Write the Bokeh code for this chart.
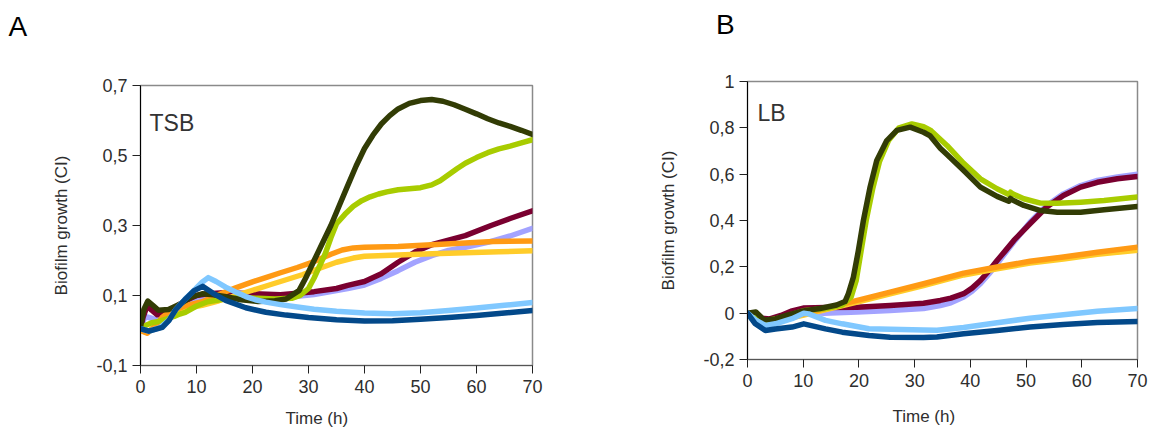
from bokeh.plotting import figure
from bokeh.layouts import row
from bokeh.models import Range1d, FixedTicker, CustomJSTickFormatter, Label
from bokeh.embed import file_html
from bokeh.resources import INLINE

FONT = "Liberation Sans"

# ---------------- Panel A : TSB ----------------
tsb_olive_t = [0, 0.6, 1.3, 2.2, 3.2, 5, 7, 9, 11, 13, 15, 18, 21, 24, 26, 28.3, 29.5, 31, 32.5, 34, 35.5, 37, 38.5, 40, 41.5, 43, 44.5, 46, 48, 50, 52, 54, 56, 58, 60, 62, 64, 66, 68, 70]
tsb_olive_y = [0.01, 0.06, 0.084, 0.072, 0.058, 0.06, 0.075, 0.095, 0.105, 0.102, 0.097, 0.088, 0.083, 0.085, 0.09, 0.114, 0.15, 0.2, 0.25, 0.3, 0.357, 0.414, 0.47, 0.52, 0.558, 0.59, 0.614, 0.633, 0.649, 0.657, 0.66, 0.655, 0.645, 0.632, 0.619, 0.605, 0.593, 0.583, 0.572, 0.56]

tsb_lime_t = [0, 1, 2, 3, 4, 5, 6, 7, 8, 10, 12, 15, 18, 21, 24, 27, 28.5, 30, 31, 32, 33, 34, 35, 36.5, 38, 39.5, 41, 42.5, 44, 46, 48, 50, 52, 53.5, 55, 56.5, 58, 60, 62, 64, 66, 68, 70]
tsb_lime_y = [0.005, 0.015, 0.022, 0.025, 0.03, 0.035, 0.04, 0.047, 0.052, 0.07, 0.082, 0.09, 0.094, 0.092, 0.09, 0.092, 0.1, 0.12, 0.15, 0.185, 0.22, 0.265, 0.305, 0.332, 0.355, 0.371, 0.382, 0.39, 0.396, 0.402, 0.405, 0.408, 0.416, 0.428, 0.445, 0.462, 0.478, 0.494, 0.508, 0.519, 0.527, 0.536, 0.545]

tsb_maroon_t = [0, 0.5, 1.2, 2, 3, 4, 5, 6, 7, 8, 10, 12, 15, 20, 25, 31, 35, 37, 40, 43, 46, 49, 52, 55, 58, 62.6, 66, 70]
tsb_maroon_y = [0.005, 0.04, 0.071, 0.058, 0.045, 0.045, 0.05, 0.06, 0.075, 0.085, 0.1, 0.105, 0.108, 0.105, 0.102, 0.111, 0.12, 0.129, 0.14, 0.162, 0.195, 0.224, 0.245, 0.258, 0.271, 0.3, 0.32, 0.342]

tsb_lavender_t = [0, 0.8, 2, 3, 4, 5, 6, 7, 8, 10, 12, 15, 20, 25, 31, 37, 40, 43, 46, 49, 52, 55, 58, 62, 66, 70]
tsb_lavender_y = [0.005, 0.04, 0.035, 0.03, 0.028, 0.032, 0.045, 0.06, 0.075, 0.09, 0.097, 0.1, 0.097, 0.093, 0.103, 0.12, 0.13, 0.149, 0.171, 0.195, 0.214, 0.229, 0.238, 0.252, 0.27, 0.292]

tsb_orange_t = [0, 1.2, 2.7, 3.9, 5.1, 8.1, 11, 14, 17, 20, 22.5, 25, 28, 31, 34, 36, 38, 40, 46, 52, 58, 63, 70]
tsb_orange_y = [0.0, -0.008, 0.014, 0.038, 0.052, 0.071, 0.082, 0.103, 0.122, 0.139, 0.152, 0.165, 0.18, 0.197, 0.218, 0.23, 0.236, 0.238, 0.24, 0.245, 0.25, 0.254, 0.256]

tsb_yellow_t = [0, 1.2, 2.7, 4, 5.1, 8, 11, 14, 17, 20, 23, 26, 29, 32, 35, 38, 40, 46, 52, 58, 64, 70]
tsb_yellow_y = [0.0, -0.005, 0.012, 0.03, 0.045, 0.063, 0.072, 0.085, 0.1, 0.115, 0.13, 0.145, 0.16, 0.178, 0.195, 0.207, 0.212, 0.216, 0.219, 0.222, 0.225, 0.228]

tsb_lightblue_t = [0, 1.5, 3.5, 5, 6.3, 8.1, 9.9, 11, 12.1, 13.5, 15.2, 17, 18.8, 20.5, 22.4, 25, 28, 31, 35, 40, 45, 50, 55, 60, 65, 70]
tsb_lightblue_y = [0.005, -0.002, 0.008, 0.028, 0.06, 0.092, 0.12, 0.138, 0.151, 0.14, 0.124, 0.11, 0.097, 0.088, 0.081, 0.074, 0.067, 0.061, 0.055, 0.05, 0.048, 0.051, 0.057, 0.064, 0.072, 0.08]

tsb_darkblue_t = [0, 1.5, 3.9, 5.1, 6.3, 8.1, 9.6, 11.1, 12.9, 15.2, 18.8, 22.4, 26, 30, 35, 40, 45, 50, 55, 60, 65, 70]
tsb_darkblue_y = [0.005, -0.002, 0.009, 0.029, 0.06, 0.091, 0.114, 0.126, 0.107, 0.086, 0.065, 0.052, 0.044, 0.037, 0.031, 0.027, 0.028, 0.032, 0.037, 0.043, 0.05, 0.057]

# ---------------- Panel B : LB ----------------
lb_olive_t = [0, 1.5, 3, 5, 7, 10, 13, 16, 17.5, 18.1, 19, 19.9, 20.8, 22, 23.2, 25, 26.8, 29.2, 31.6, 32.8, 34.6, 35.8, 38.8, 41.8, 44.8, 46.9, 47.2, 47.6, 49.6, 52.6, 55.6, 59.8, 64, 70]
lb_olive_y = [0.0, 0.005, -0.03, -0.025, -0.01, 0.01, 0.02, 0.035, 0.05, 0.084, 0.155, 0.27, 0.4, 0.544, 0.659, 0.745, 0.789, 0.803, 0.781, 0.765, 0.712, 0.685, 0.616, 0.544, 0.504, 0.483, 0.495, 0.488, 0.465, 0.443, 0.436, 0.436, 0.446, 0.46]

lb_lime_t = [0, 3, 6, 10, 14, 17, 18.6, 19.5, 20.4, 21.3, 22.5, 23.7, 25.3, 27.2, 29.5, 31.6, 32.8, 35.8, 38.8, 41.8, 44.8, 46.9, 47.2, 47.6, 49.6, 52.6, 55.6, 59.8, 64, 70]
lb_lime_y = [0.0, -0.035, -0.02, 0.01, 0.02, 0.035, 0.07, 0.14, 0.27, 0.4, 0.54, 0.655, 0.745, 0.8, 0.817, 0.805, 0.79, 0.724, 0.647, 0.58, 0.537, 0.512, 0.522, 0.515, 0.494, 0.475, 0.474, 0.479, 0.486, 0.501]

lb_maroon_t = [0, 2, 4, 6, 8, 10, 14, 19.7, 25.6, 31.6, 34.6, 36.5, 38.8, 40.3, 41.8, 43.3, 44.8, 46.3, 47.8, 50.7, 53.7, 56.7, 59.8, 62.8, 66.4, 70]
lb_maroon_y = [0.0, -0.02, -0.025, -0.01, 0.01, 0.022, 0.024, 0.026, 0.033, 0.043, 0.055, 0.065, 0.084, 0.108, 0.141, 0.182, 0.227, 0.27, 0.314, 0.386, 0.458, 0.508, 0.544, 0.565, 0.58, 0.59]

lb_lavender_t = [0, 2, 4, 6, 8, 10, 13.7, 19.7, 25.6, 31.6, 34.6, 36.5, 38.8, 40.3, 41.8, 43.3, 44.8, 46.3, 47.8, 50.7, 53.7, 56.7, 59.8, 62.8, 66.4, 70]
lb_lavender_y = [0.0, -0.025, -0.03, -0.02, -0.005, 0.005, 0.0, 0.005, 0.012, 0.02, 0.033, 0.045, 0.07, 0.095, 0.127, 0.168, 0.213, 0.26, 0.307, 0.393, 0.465, 0.515, 0.551, 0.573, 0.588, 0.6]

lb_orange_t = [0, 1.5, 3.5, 6, 10.1, 13.7, 19.7, 25.6, 31.6, 38.8, 44.8, 50.7, 56.7, 62.8, 70]
lb_orange_y = [0.0, -0.02, -0.039, -0.025, -0.003, 0.019, 0.055, 0.091, 0.127, 0.173, 0.199, 0.224, 0.242, 0.263, 0.285]

lb_yellow_t = [0, 1.5, 3.5, 6, 10.1, 13.7, 19.7, 25.6, 31.6, 38.8, 44.8, 50.7, 56.7, 62.8, 70]
lb_yellow_y = [0.0, -0.022, -0.042, -0.03, -0.008, 0.013, 0.048, 0.083, 0.119, 0.165, 0.192, 0.216, 0.234, 0.254, 0.272]

lb_lightblue_t = [0, 1.4, 3.2, 5, 8, 10.1, 11, 14, 17, 21.8, 25.6, 31.6, 34, 38.8, 44.8, 50.7, 56.7, 62.8, 70]
lb_lightblue_y = [0.0, -0.029, -0.053, -0.046, -0.024, 0.0, -0.003, -0.031, -0.046, -0.067, -0.069, -0.073, -0.074, -0.062, -0.041, -0.022, -0.007, 0.008, 0.02]

lb_darkblue_t = [0, 1.4, 3.2, 5, 8, 10.1, 14, 17, 21.8, 25.6, 31.6, 34, 38.8, 44.8, 50.7, 56.7, 62.8, 70]
lb_darkblue_y = [0.0, -0.046, -0.075, -0.068, -0.06, -0.046, -0.068, -0.082, -0.096, -0.104, -0.105, -0.103, -0.089, -0.075, -0.06, -0.049, -0.04, -0.036]

# axis ticks
x_ticks = [0, 10, 20, 30, 40, 50, 60, 70]
tsb_y_ticks = [-0.1, 0.1, 0.3, 0.5, 0.7]
lb_y_ticks = [-0.2, 0.0, 0.2, 0.4, 0.6, 0.8, 1.0]

colors = {
    "lavender": "#a3a3ff",
    "maroon": "#7a0030",
    "yellow": "#ffcc2a",
    "orange": "#ff9a14",
    "lime": "#a8cc00",
    "olive": "#323c05",
    "lightblue": "#80c8ff",
    "darkblue": "#03498a",
}
draw_order = ["lavender", "maroon", "yellow", "orange", "lime", "olive", "lightblue", "darkblue"]

tsb_series = {
    "olive": (tsb_olive_t, tsb_olive_y), "lime": (tsb_lime_t, tsb_lime_y),
    "maroon": (tsb_maroon_t, tsb_maroon_y), "lavender": (tsb_lavender_t, tsb_lavender_y),
    "orange": (tsb_orange_t, tsb_orange_y), "yellow": (tsb_yellow_t, tsb_yellow_y),
    "lightblue": (tsb_lightblue_t, tsb_lightblue_y), "darkblue": (tsb_darkblue_t, tsb_darkblue_y),
}
lb_series = {
    "olive": (lb_olive_t, lb_olive_y), "lime": (lb_lime_t, lb_lime_y),
    "maroon": (lb_maroon_t, lb_maroon_y), "lavender": (lb_lavender_t, lb_lavender_y),
    "orange": (lb_orange_t, lb_orange_y), "yellow": (lb_yellow_t, lb_yellow_y),
    "lightblue": (lb_lightblue_t, lb_lightblue_y), "darkblue": (lb_darkblue_t, lb_darkblue_y),
}

FMT = CustomJSTickFormatter(code="""
var s;
if (Math.abs(tick) < 1e-9) { s = '0'; }
else if (Math.abs(tick - Math.round(tick)) < 1e-9) { s = String(Math.round(tick)); }
else { s = tick.toFixed(1); }
return s.replace('.', ',');
""")


def screen_label(text, x, y, size, color):
    return Label(x=x, y=y, x_units="screen", y_units="screen", text=text,
                 text_align="left", text_baseline="alphabetic", text_font=FONT,
                 text_font_size=size, text_color=color)


def make_panel(series, yr, yticks, letter, medium, borders, letter_pos, medium_pos, xlab_pos):
    left, right, top, bottom = borders
    p = figure(width=575, height=430, x_range=Range1d(0, 70), y_range=Range1d(*yr),
               output_backend="svg", toolbar_location=None, frame_align=False,
               min_border_left=left, min_border_right=right,
               min_border_top=top, min_border_bottom=bottom)
    p.background_fill_color = "white"
    p.border_fill_color = "white"
    p.xgrid.visible = False
    p.ygrid.visible = False
    p.outline_line_color = "#8a8a8a"
    p.outline_line_width = 1.5

    for name in draw_order:
        t, y = series[name]
        p.line(t, y, line_color=colors[name], line_width=5.5,
               line_join="round", line_cap="round")

    for ax in (p.xaxis[0], p.yaxis[0]):
        ax.major_label_text_font = FONT
        ax.major_label_text_font_size = "18px"
        ax.major_label_text_color = "#2e2e2e"
        ax.minor_tick_line_color = None
        ax.major_tick_in = 0
        ax.major_tick_out = 8
        ax.major_tick_line_color = "#222222"
        ax.major_label_standoff = 6

    p.xaxis.ticker = FixedTicker(ticks=x_ticks)
    p.xaxis.axis_line_color = "#555555"
    p.yaxis.ticker = FixedTicker(ticks=yticks)
    p.yaxis.formatter = FMT
    p.yaxis.axis_line_color = "black"
    p.yaxis.major_label_standoff = 5
    p.yaxis.axis_label = "Biofilm growth (CI)"
    p.yaxis.axis_label_text_font = FONT
    p.yaxis.axis_label_text_font_size = "17px"
    p.yaxis.axis_label_text_font_style = "normal"
    p.yaxis.axis_label_text_color = "#2e2e2e"
    p.yaxis.axis_label_standoff = 22

    p.add_layout(screen_label("Time (h)", xlab_pos[0], xlab_pos[1], "17px", "#2e2e2e"), "below")
    p.add_layout(screen_label(letter, letter_pos[0], letter_pos[1], "28px", "black"), "above")
    p.add_layout(screen_label(medium, medium_pos[0], medium_pos[1], "23px", "#333333"))
    return p


pa = make_panel(tsb_series, (-0.1, 0.7), tsb_y_ticks, "A", "TSB",
                (140, 43, 85, 65), (-132, 59), (9, 243), (145, -4))
pb = make_panel(lb_series, (-0.2, 1.0), lb_y_ticks, "B", "LB",
                (172, 13, 81, 71), (-31.5, 57), (10, 247), (145, -8))

layout = row(pa, pb)
open("out.html", "w").write(file_html(layout, INLINE))
